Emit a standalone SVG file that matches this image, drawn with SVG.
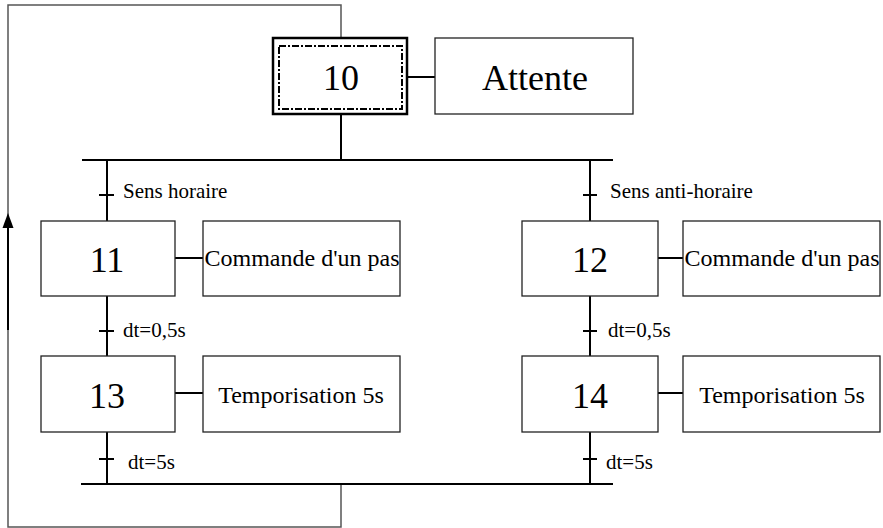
<svg xmlns="http://www.w3.org/2000/svg" width="883" height="528" viewBox="0 0 883 528">
  <style>
    .box { fill: #fff; stroke: #222; stroke-width: 1.3; }
    .link { fill: none; stroke: #000; stroke-width: 2; }
    .loop { fill: none; stroke: #555; stroke-width: 1.5; }
    .num { font-family: "Liberation Serif", "Times New Roman", serif; font-size: 36px; text-anchor: middle; fill: #000; }
    .act { font-family: "Liberation Serif", "Times New Roman", serif; font-size: 24px; text-anchor: middle; fill: #000; }
    .cond { font-family: "Liberation Serif", "Times New Roman", serif; font-size: 21px; fill: #000; }
  </style>

  <!-- connectors -->
  <g id="connectors">
    <!-- return loop from bottom convergence to step 10 -->
    <polyline class="loop" points="341,484 341,527 8,527 8,5 341,5 341,37"/>
    <line class="link" x1="8" y1="330" x2="8" y2="226"/>
    <path d="M2.5,228 L13.5,228 L8,213 Z" fill="#000"/>

    <!-- step 10 down to divergence -->
    <line class="link" x1="341" y1="115" x2="341" y2="160"/>
    <line class="link" x1="82" y1="160" x2="613" y2="160"/>

    <!-- left branch -->
    <line class="link" x1="107" y1="160" x2="107" y2="221"/>
    <line class="link" x1="99" y1="195" x2="114" y2="195"/>
    <line class="link" x1="107" y1="296" x2="107" y2="356"/>
    <line class="link" x1="99" y1="331" x2="114" y2="331"/>
    <line class="link" x1="107" y1="432" x2="107" y2="484"/>
    <line class="link" x1="99" y1="459" x2="114" y2="459"/>

    <!-- right branch -->
    <line class="link" x1="590" y1="160" x2="590" y2="221"/>
    <line class="link" x1="583" y1="195" x2="597" y2="195"/>
    <line class="link" x1="590" y1="296" x2="590" y2="356"/>
    <line class="link" x1="583" y1="331" x2="597" y2="331"/>
    <line class="link" x1="590" y1="432" x2="590" y2="484"/>
    <line class="link" x1="583" y1="459" x2="597" y2="459"/>

    <!-- convergence -->
    <line class="link" x1="81" y1="484" x2="613" y2="484"/>

    <!-- action links -->
    <line class="link" x1="408" y1="77" x2="435" y2="77"/>
    <line class="link" x1="175" y1="258" x2="203" y2="258"/>
    <line class="link" x1="175" y1="393" x2="203" y2="393"/>
    <line class="link" x1="658" y1="258" x2="683" y2="258"/>
    <line class="link" x1="658" y1="393" x2="683" y2="393"/>

    <!-- transition conditions -->
    <text class="cond" x="123" y="198">Sens horaire</text>
    <text class="cond" x="610" y="198">Sens anti-horaire</text>
    <text class="cond" x="123" y="337">dt=0,5s</text>
    <text class="cond" x="608" y="337">dt=0,5s</text>
    <text class="cond" x="128" y="469">dt=5s</text>
    <text class="cond" x="606" y="469">dt=5s</text>
  </g>

  <!-- initial step -->
  <g id="step10">
    <rect x="273" y="38" width="134" height="76" fill="#fff" stroke="#000" stroke-width="2.5"/>
    <rect x="279" y="46" width="123" height="63" fill="none" stroke="#000" stroke-width="2" stroke-dasharray="7,2,2,2"/>
    <text class="num" x="341" y="90">10</text>
  </g>
  <g id="action10">
    <rect class="box" x="435" y="38" width="198" height="76"/>
    <text class="num" x="535" y="90">Attente</text>
  </g>

  <g id="step11">
    <rect class="box" x="41" y="221" width="134" height="75"/>
    <text class="num" x="107" y="272">11</text>
  </g>
  <g id="action11">
    <rect class="box" x="203" y="221" width="197" height="75"/>
    <text class="act" x="302" y="266">Commande d'un pas</text>
  </g>

  <g id="step12">
    <rect class="box" x="522" y="221" width="136" height="75"/>
    <text class="num" x="590" y="272">12</text>
  </g>
  <g id="action12">
    <rect class="box" x="683" y="221" width="197" height="75"/>
    <text class="act" x="782" y="266">Commande d'un pas</text>
  </g>

  <g id="step13">
    <rect class="box" x="41" y="356" width="134" height="76"/>
    <text class="num" x="107" y="408">13</text>
  </g>
  <g id="action13">
    <rect class="box" x="203" y="356" width="197" height="76"/>
    <text class="act" x="301" y="403">Temporisation 5s</text>
  </g>

  <g id="step14">
    <rect class="box" x="522" y="356" width="136" height="76"/>
    <text class="num" x="590" y="408">14</text>
  </g>
  <g id="action14">
    <rect class="box" x="683" y="356" width="197" height="76"/>
    <text class="act" x="782" y="403">Temporisation 5s</text>
  </g>
</svg>
